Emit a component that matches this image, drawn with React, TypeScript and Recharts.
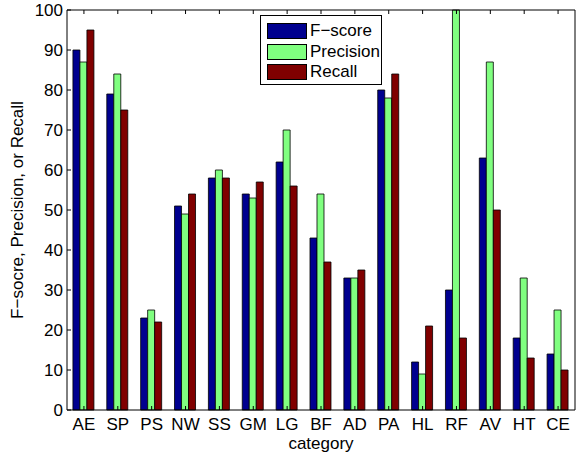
import { Bar, BarChart, Label, Legend, XAxis, YAxis } from "recharts";

const categories = ["AE", "SP", "PS", "NW", "SS", "GM", "LG", "BF", "AD", "PA", "HL", "RF", "AV", "HT", "CE"];
const fScore = [90, 79, 23, 51, 58, 54, 62, 43, 33, 80, 12, 30, 63, 18, 14];
const precision = [87, 84, 25, 49, 60, 53, 70, 54, 33, 78, 9, 100, 87, 33, 25];
const recall = [95, 75, 22, 54, 58, 57, 56, 37, 35, 84, 21, 18, 50, 13, 10];
const yTicks = [0, 10, 20, 30, 40, 50, 60, 70, 80, 90, 100];

const FONT = "'Liberation Sans', Arial, Helvetica, sans-serif";
const FS = 17;
const TICK = 4;

const SERIES = [
  { key: "fScore", name: "F\u2212score", color: "#00008f" },
  { key: "precision", name: "Precision", color: "#80ff80" },
  { key: "recall", name: "Recall", color: "#800000" },
];

const data = categories.map((c, i) => ({
  cat: c,
  fScore: fScore[i],
  precision: precision[i],
  recall: recall[i],
}));

// matlab-style ticks: drawn inward from the axis line
function LeftTick(props: any) {
  const { x, y, payload } = props;
  return (
    <g>
      <line x1={x} y1={y} x2={x + TICK} y2={y} stroke="#000" />
      <text x={x - 4} y={y} textAnchor="end" dominantBaseline="central" fontSize={FS} fontFamily={FONT} fill="#000">
        {payload.value}
      </text>
    </g>
  );
}

function RightTick(props: any) {
  const { x, y } = props;
  return <line x1={x} y1={y} x2={x - TICK} y2={y} stroke="#000" />;
}

function BottomTick(props: any) {
  const { x, y, payload } = props;
  return (
    <g>
      <line x1={x} y1={y} x2={x} y2={y - TICK} stroke="#000" />
      <text x={x} y={y + 14} textAnchor="middle" dominantBaseline="central" fontSize={FS} fontFamily={FONT} fill="#000">
        {payload.value}
      </text>
    </g>
  );
}

function TopTick(props: any) {
  const { x, y } = props;
  return <line x1={x} y1={y} x2={x} y2={y + TICK} stroke="#000" />;
}

function LegendBox() {
  return (
    <div
      style={{
        boxSizing: "border-box",
        border: "1px solid #000",
        background: "#fff",
        padding: "5px 0 5px 6px",
        fontFamily: FONT,
        fontSize: FS,
        width: 122,
        height: 70,
      }}
    >
      {SERIES.map((s) => (
        <div key={s.key} style={{ display: "flex", alignItems: "center", height: 20.5 }}>
          <span
            style={{
              display: "inline-block",
              flex: "none",
              width: 38,
              height: 14,
              background: s.color,
              border: "1px solid #000",
              marginRight: 3,
            }}
          />
          <span style={{ whiteSpace: "nowrap" }}>{s.name}</span>
        </div>
      ))}
    </div>
  );
}

export default function App() {
  return (
    <div style={{ position: "absolute", left: 0, top: 0, background: "#fff" }}>
      <style>{"body{margin:0}"}</style>
      <BarChart
        width={581}
        height={452}
        data={data}
        margin={{ top: 0, right: 0, bottom: 0, left: 0 }}
        barCategoryGap="17.5%"
        barGap={0}
      >
        <XAxis
          dataKey="cat"
          xAxisId="bottom"
          height={42}
          stroke="#000"
          tickLine={false}
          tickSize={0}
          tickMargin={0}
          tick={<BottomTick />}
          interval={0}
        >
          <Label value="category" position="insideBottom" offset={3} fontSize={FS} fontFamily={FONT} fill="#000" />
        </XAxis>
        <XAxis
          dataKey="cat"
          xAxisId="top"
          orientation="top"
          height={10}
          stroke="#000"
          tickLine={false}
          tickSize={0}
          tickMargin={0}
          tick={<TopTick />}
          interval={0}
        />
        <YAxis
          yAxisId="left"
          domain={[0, 100]}
          ticks={yTicks}
          width={67}
          stroke="#000"
          tickLine={false}
          tickSize={0}
          tickMargin={0}
          tick={<LeftTick />}
          interval={0}
        >
          <Label
            value={"F\u2212socre, Precision, or Recall"}
            angle={-90}
            position="insideLeft"
            offset={17}
            style={{ textAnchor: "middle" }}
            fontSize={FS}
            fontFamily={FONT}
            fill="#000"
          />
        </YAxis>
        <YAxis
          yAxisId="right"
          orientation="right"
          domain={[0, 100]}
          ticks={yTicks}
          width={6}
          stroke="#000"
          tickLine={false}
          tickSize={0}
          tickMargin={0}
          tick={<RightTick />}
          interval={0}
        />
        <Legend
          layout="vertical"
          align="center"
          verticalAlign="middle"
          content={<LegendBox />}
          wrapperStyle={{ left: 260, top: 15, width: "auto" }}
        />
        {SERIES.map((s) => (
          <Bar
            key={s.key}
            dataKey={s.key}
            name={s.name}
            xAxisId="bottom"
            yAxisId="left"
            fill={s.color}
            stroke="#000"
            strokeWidth={0.8}
            isAnimationActive={false}
          />
        ))}
      </BarChart>
    </div>
  );
}
